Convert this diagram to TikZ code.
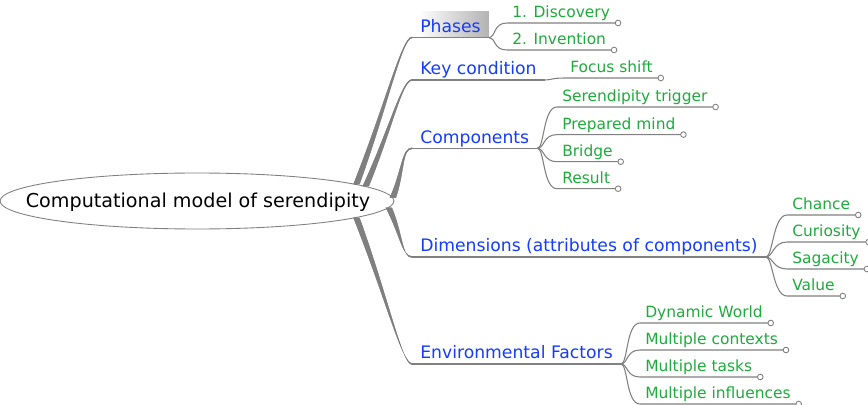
\documentclass[tikz,border=0pt]{standalone}
\usepackage{fontspec}
\setmainfont{DejaVu Sans}
\usetikzlibrary{shapes.geometric,calc,positioning,backgrounds}
\definecolor{topicblue}{RGB}{20,60,250}
\definecolor{leafgreen}{RGB}{30,170,60}
\definecolor{stemgray}{RGB}{128,128,128}

% tapered main branch from the root to a topic
\newcommand{\drawtrunk}[2]{%
  \fill[trunk] ($(#1)+(-3,0)$) .. controls ($(#1)!0.55!(#2)+(-1.5,0)$) and ($(#2)+(-10,-0.6)$) .. ($(#2)+(0,-0.6)$)
    -- ($(#2)+(0,0.6)$) .. controls ($(#2)+(-10,0.6)$) and ($(#1)!0.55!(#2)+(1.5,0)$) .. ($(#1)+(3,0)$) -- cycle;}
% thin branch from a topic to a leaf, with its end knob
\newcommand{\drawtwig}[2]{%
  \draw[twig] (#1) .. controls +(7,0) and +(-14,0) .. (#2.south west) -- (#2.south east);
  \draw[knob] ($(#2.south east)+(2.8,0)$) circle[radius=1.6pt];}

\begin{document}
\begin{tikzpicture}[x=0.02cm, y=-0.02cm,
    topic/.style={anchor=south west, inner xsep=4.5pt, inner ysep=0pt, text depth=2.8pt, text=topicblue, font=\fontsize{9.8}{11}\selectfont},
    leaf/.style={anchor=south west, inner xsep=2.8pt, inner ysep=0pt, text depth=2.8pt, text=leafgreen, font=\fontsize{8.8}{10}\selectfont},
    twig/.style={draw=stemgray, line width=0.6pt},
    trunk/.style={fill=stemgray, draw=stemgray!90!black, line width=0.2pt},
    knob/.style={draw=stemgray, fill=white, line width=0.5pt}]

    \useasboundingbox (0,0) rectangle (868,405);

    % root
    \node [ellipse, draw=stemgray, line width=0.5pt, minimum width=7.88cm, minimum height=1.12cm, inner sep=0pt] (Root) at (197,201) {};
    \node [font=\fontsize{10.9}{13}\selectfont, inner sep=0pt] (RootLabel) at (198,202) {Computational model of serendipity};

    % topics
    \node [topic] (Phases) at (412,37.5) {Phases};
    \node [topic] (KeyCond) at (412,80) {Key condition};
    \node [topic] (Comp) at (412,148.3) {Components};
    \node [topic] (Dim) at (412,257) {Dimensions (attributes of components)};
    \node [topic] (Env) at (412,364) {Environmental Factors};

    \begin{scope}[on background layer]
        \shade [left color=white, right color=black!30] ($(Phases.south west)+(6,0)$) rectangle ($(Phases.south east)+(0,-25.5)$);
    \end{scope}

    \foreach \t in {Phases,KeyCond,Comp,Dim,Env}
        \draw [twig] (\t.south west) -- (\t.south east);

    \drawtrunk{Root.6}{Phases.south west}
    \drawtrunk{Root.5}{KeyCond.south west}
    \drawtrunk{Root.1.7}{Comp.south west}
    \drawtrunk{Root.-2.2}{Dim.south west}
    \drawtrunk{Root.-6}{Env.south west}

    % leaves
    \node [leaf] (Disc) at (507,23) {1. Discovery};
    \node [leaf] (Inv) at (507,50) {2. Invention};
    \node [leaf] (Focus) at (565,78) {Focus shift};
    \node [leaf] (Trigger) at (557,107) {Serendipity trigger};
    \node [leaf] (Mind) at (557,134.6) {Prepared mind};
    \node [leaf] (Bridge) at (557,161.7) {Bridge};
    \node [leaf] (Result) at (557,188.7) {Result};
    \node [leaf] (Chance) at (787,215) {Chance};
    \node [leaf] (Curiosity) at (787,242) {Curiosity};
    \node [leaf] (Sagacity) at (787,269) {Sagacity};
    \node [leaf] (Value) at (787,296) {Value};
    \node [leaf] (World) at (640,323) {Dynamic World};
    \node [leaf] (Contexts) at (640,350) {Multiple contexts};
    \node [leaf] (Tasks) at (640,377) {Multiple tasks};
    \node [leaf] (Influences) at (640,404) {Multiple influences};

    \foreach \l in {Disc,Inv} {\drawtwig{Phases.south east}{\l}}
    \drawtwig{KeyCond.south east}{Focus}
    \foreach \l in {Trigger,Mind,Bridge,Result} {\drawtwig{Comp.south east}{\l}}
    \foreach \l in {Chance,Curiosity,Sagacity,Value} {\drawtwig{Dim.south east}{\l}}
    \foreach \l in {World,Contexts,Tasks,Influences} {\drawtwig{Env.south east}{\l}}
\end{tikzpicture}
\end{document}
